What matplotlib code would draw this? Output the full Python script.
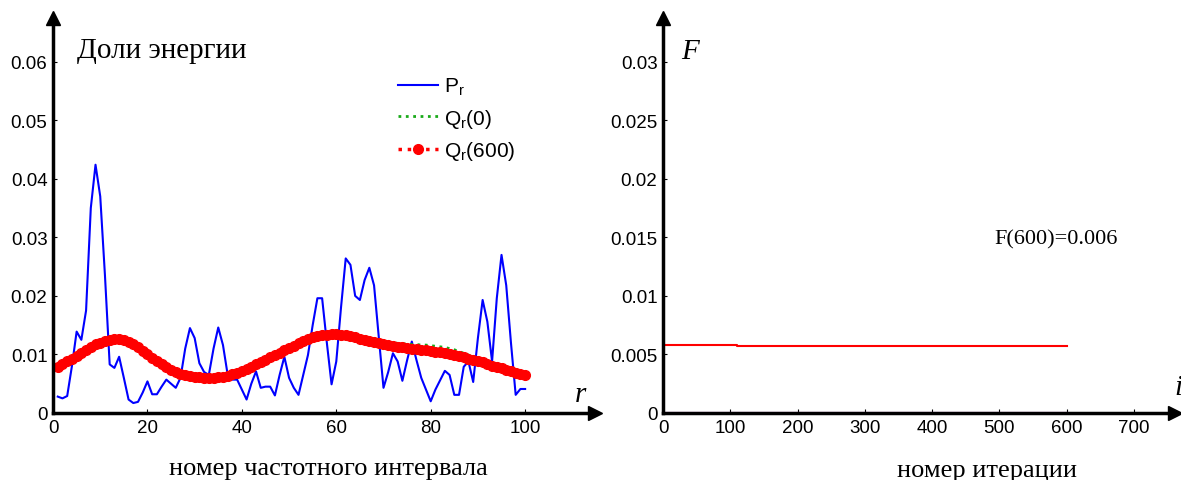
import matplotlib.pyplot as plt
from matplotlib.ticker import FuncFormatter

# spectral energy shares per frequency interval r = 1..100
r = list(range(1, 101))
P = [0.0028, 0.0025, 0.0029, 0.0080, 0.0139, 0.0125, 0.0175, 0.0350, 0.0424, 0.0370,
     0.0235, 0.0083, 0.0077, 0.0096, 0.0060, 0.0023, 0.0017, 0.0019, 0.0035, 0.0054,
     0.0032, 0.0032, 0.0045, 0.0057, 0.0050, 0.0043, 0.0060, 0.0110, 0.0145, 0.0128,
     0.0085, 0.0070, 0.0065, 0.0110, 0.0146, 0.0116, 0.0065, 0.0057, 0.0057, 0.0040,
     0.0023, 0.0050, 0.0071, 0.0043, 0.0045, 0.0045, 0.0030, 0.0065, 0.0096, 0.0060,
     0.0043, 0.0031, 0.0065, 0.0099, 0.0150, 0.0196, 0.0196, 0.0120, 0.0049, 0.0088,
     0.0180, 0.0264, 0.0253, 0.0200, 0.0193, 0.0227, 0.0248, 0.0218, 0.0130, 0.0043,
     0.0070, 0.0102, 0.0088, 0.0055, 0.0090, 0.0122, 0.0090, 0.0060, 0.0040, 0.0020,
     0.0040, 0.0056, 0.0072, 0.0065, 0.0031, 0.0031, 0.0079, 0.0088, 0.0053, 0.0128,
     0.0193, 0.0156, 0.0088, 0.0196, 0.0270, 0.0218, 0.0120, 0.0031, 0.0041, 0.0041]

Q0 = [0.0079, 0.0083, 0.0087, 0.0091, 0.0095, 0.0099, 0.0103, 0.0107, 0.0111, 0.0114,
      0.0116, 0.0118, 0.0119, 0.0119, 0.0118, 0.0116, 0.0113, 0.0109, 0.0104, 0.0099,
      0.0094, 0.0088, 0.0083, 0.0078, 0.0074, 0.0070, 0.0067, 0.0065, 0.0063, 0.0062,
      0.0061, 0.0060, 0.0060, 0.0060, 0.0061, 0.0062, 0.0064, 0.0066, 0.0069, 0.0072,
      0.0075, 0.0079, 0.0083, 0.0087, 0.0091, 0.0095, 0.0099, 0.0103, 0.0107, 0.0111,
      0.0115, 0.0119, 0.0123, 0.0126, 0.0129, 0.0131, 0.0133, 0.0134, 0.0135, 0.0135,
      0.0134, 0.0133, 0.0131, 0.0129, 0.0127, 0.0125, 0.0124, 0.0123, 0.0122, 0.0121,
      0.0121, 0.0120, 0.0119, 0.0118, 0.0118, 0.0117, 0.0117, 0.0116, 0.0116, 0.0115,
      0.0114, 0.0113, 0.0112, 0.0110, 0.0108, 0.0105, 0.0102, 0.0099, 0.0096, 0.0093,
      0.0090, 0.0087, 0.0084, 0.0081, 0.0078, 0.0075, 0.0072, 0.0070, 0.0068, 0.0066]

Q600 = [0.0079, 0.0083, 0.0088, 0.0093, 0.0098, 0.0103, 0.0108, 0.0113, 0.0117, 0.0120,
        0.0123, 0.0125, 0.0126, 0.0126, 0.0124, 0.0121, 0.0117, 0.0112, 0.0106, 0.0100,
        0.0094, 0.0088, 0.0083, 0.0078, 0.0074, 0.0070, 0.0067, 0.0065, 0.0063, 0.0062,
        0.0061, 0.0060, 0.0060, 0.0060, 0.0061, 0.0062, 0.0064, 0.0066, 0.0069, 0.0072,
        0.0075, 0.0079, 0.0083, 0.0087, 0.0091, 0.0095, 0.0099, 0.0103, 0.0107, 0.0111,
        0.0115, 0.0119, 0.0123, 0.0126, 0.0129, 0.0131, 0.0133, 0.0134, 0.0135, 0.0135,
        0.0134, 0.0133, 0.0131, 0.0129, 0.0127, 0.0125, 0.0123, 0.0121, 0.0119, 0.0117,
        0.0116, 0.0114, 0.0113, 0.0112, 0.0111, 0.0110, 0.0109, 0.0108, 0.0107, 0.0106,
        0.0105, 0.0104, 0.0103, 0.0101, 0.0099, 0.0097, 0.0095, 0.0093, 0.0091, 0.0089,
        0.0087, 0.0084, 0.0081, 0.0078, 0.0076, 0.0073, 0.0071, 0.0069, 0.0067, 0.0065]

# objective F over iterations
iters = [0, 110, 110, 600]
F = [0.00583, 0.00583, 0.00575, 0.00575]
start_i = [0, 0, 600]
start_F = [0.030, 0.0, 0.0]

SANS = 'Liberation Sans'
SERIF = 'Liberation Serif'
plt.rcParams['font.family'] = SANS
plt.rcParams['mathtext.fontset'] = 'custom'
plt.rcParams['mathtext.rm'] = SANS
plt.rcParams['mathtext.it'] = SANS + ':italic'

fmt = FuncFormatter(lambda v, p: '%g' % round(v, 4))


def style_axes(ax):
    for s in ['top', 'right']:
        ax.spines[s].set_visible(False)
    for s in ['left', 'bottom']:
        ax.spines[s].set_linewidth(2.5)
        ax.spines[s].set_color('black')
    ax.tick_params(direction='in', length=3, width=0.8, labelsize=13.5, pad=4)
    ax.yaxis.set_major_formatter(fmt)
    ax.plot(1, 0, '>k', ms=10, transform=ax.get_yaxis_transform(), clip_on=False)
    ax.plot(0, 1, '^k', ms=10, transform=ax.get_xaxis_transform(), clip_on=False)


fig = plt.figure(figsize=(11.81, 4.81), dpi=100)
ax1 = fig.add_axes([0.0449, 0.1393, 0.4589, 0.8212])
ax2 = fig.add_axes([0.5614, 0.1393, 0.4335, 0.8212])

ax1.plot(r, P, color='blue', lw=1.5, label=r'$\mathregular{P_r}$')
ax1.plot(r, Q0, color='#1aaa1a', lw=2, ls=':', label=r'$\mathregular{Q_r(0)}$')
ax1.plot(r, Q600, color='red', lw=2.5, ls=':', marker='o', ms=7, mec='red',
         label=r'$\mathregular{Q_r(600)}$')
ax1.set_xlim(0, 114.8)
ax1.set_ylim(0, 0.06746)
ax1.set_xticks([0, 20, 40, 60, 80, 100])
ax1.set_yticks([0, 0.01, 0.02, 0.03, 0.04, 0.05, 0.06])
style_axes(ax1)
leg = ax1.legend(loc='upper left', bbox_to_anchor=(0.637, 0.853), frameon=False,
                 fontsize=15, handlelength=1.9, handletextpad=0.3, labelspacing=0.45,
                 borderpad=0, borderaxespad=0)
ax1.text(0.044, 0.901, 'Доли энергии', transform=ax1.transAxes, family=SERIF,
         fontsize=21, va='baseline')
ax1.text(0.963, 0.031, 'r', transform=ax1.transAxes, family=SERIF, style='italic',
         fontsize=21, va='baseline')
fig.text(0.2777, 0.0125, 'номер частотного интервала', family=SERIF, fontsize=19,
         ha='center', va='baseline')

ax2.plot(start_i, start_F, color='magenta', lw=1.5)
ax2.plot(iters, F, color='red', lw=1.5)
ax2.set_xlim(0, 761)
ax2.set_ylim(0, 0.03373)
ax2.set_xticks([0, 100, 200, 300, 400, 500, 600, 700])
ax2.set_yticks([0, 0.005, 0.01, 0.015, 0.02, 0.025, 0.03])
style_axes(ax2)
ax2.text(0.035, 0.899, 'F', transform=ax2.transAxes, family=SERIF, style='italic',
         fontsize=21, va='baseline')
ax2.text(0.998, 0.048, 'i', transform=ax2.transAxes, family=SERIF, style='italic',
         fontsize=21, va='baseline')
ax2.text(0.648, 0.44, 'F(600)=%.3f' % F[-1], transform=ax2.transAxes, family=SERIF,
         fontsize=16, va='center')
fig.text(0.8357, 0.008, 'номер итерации', family=SERIF, fontsize=19, ha='center',
         va='baseline')

fig.savefig('out.png', dpi=100)
